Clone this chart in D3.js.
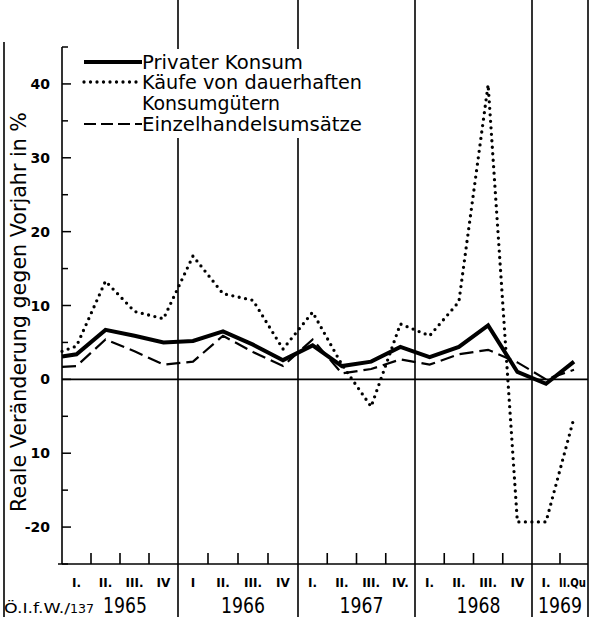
<!DOCTYPE html>
<html><head><meta charset="utf-8">
<script src="https://cdn.jsdelivr.net/npm/d3@7"></script>
<style>body{margin:0;background:#fff}svg{display:block}</style>
</head><body>
<svg id="c" width="591" height="617"></svg>
<script>
// ---- data ----
const times = [1965.0, 1965.125, 1965.375, 1965.625, 1965.875,
  1966.125, 1966.375, 1966.625, 1966.875,
  1967.125, 1967.375, 1967.625, 1967.875,
  1968.125, 1968.375, 1968.625, 1968.875,
  1969.125, 1969.375];
const privaterKonsum = [3.1, 3.4, 6.7, 5.9, 5.0, 5.2, 6.5, 4.7, 2.6, 4.6, 1.8, 2.4, 4.4, 3.0, 4.4, 7.3, 1.0, -0.6, 2.4];
const dauerhafteGueter = [3.8, 4.5, 13.3, 9.2, 8.2, 16.7, 11.6, 10.7, 4.1, 9.1, 2.0, -3.7, 7.5, 5.9, 10.5, 39.9, -19.3, -19.3, -5.2];
const einzelhandel = [1.7, 1.8, 5.4, 3.8, 2.0, 2.4, 5.9, 3.7, 1.8, 5.4, 0.8, 1.4, 2.7, 2.0, 3.4, 4.0, 2.3, 0.0, 1.3];
const years = ["1965", "1966", "1967", "1968", "1969"];
const yearStarts = [1965, 1966, 1967, 1968, 1969, 1969.5];
const quarterLabels = [["I.", "II.", "III.", "IV"], ["I", "II.", "III.", "IV"], ["I.", "II.", "III.", "IV."], ["I.", "II.", "III.", "IV"], ["I.", "II.Qu"]];
const yTickValues = [-20, -10, 0, 10, 20, 30, 40];
const yTickLabels = ["-20", "10", "0", "10", "20", "30", "40"];
const yMinorValues = [-25, -15, -5, 5, 15, 25, 35, 45];
const legendLabels = [["Privater Konsum"], ["Käufe von dauerhaften", "Konsumgütern"], ["Einzelhandelsumsätze"]];
const yTitle = "Reale Veränderung gegen Vorjahr in %";
const source = "Ö.I.f.W./";
const sourceNo = "137";

// ---- layout ----
const svg = d3.select("#c");
const F = "'DejaVu Sans', sans-serif";
const x = d3.scaleLinear().domain(yearStarts).range([62, 178, 298, 415, 532, 588]);
const y = d3.scaleLinear().domain([-25, 45]).range([564, 47]);
const g = svg.append("g");

// frame and year separators
g.append("line").attr("x1", 4).attr("x2", 4).attr("y1", 42).attr("y2", 617).attr("stroke", "#000").attr("stroke-width", 1.6);
yearStarts.slice(1).forEach(t => {
  g.append("line").attr("x1", x(t)).attr("x2", x(t)).attr("y1", 0).attr("y2", 617)
    .attr("stroke", "#000").attr("stroke-width", 1.6);
});
g.append("line").attr("x1", 62).attr("x2", 62).attr("y1", y(45)).attr("y2", y(-25)).attr("stroke", "#000").attr("stroke-width", 1.6);
g.append("line").attr("x1", 58).attr("x2", x(1969.5)).attr("y1", y(-25)).attr("y2", y(-25)).attr("stroke", "#000").attr("stroke-width", 1.6);
g.append("line").attr("x1", 62).attr("x2", x(1969.5)).attr("y1", y(0)).attr("y2", y(0)).attr("stroke", "#000").attr("stroke-width", 1.6);

// y ticks (inside)
yTickValues.forEach((v, i) => {
  g.append("line").attr("x1", 62).attr("x2", 71).attr("y1", y(v)).attr("y2", y(v)).attr("stroke", "#000").attr("stroke-width", 1.5);
  g.append("text").attr("x", 50).attr("y", y(v) + 5).attr("text-anchor", "end")
    .attr("font-family", F).attr("font-weight", "bold").attr("font-size", 14)
    .text(yTickLabels[i]);
});
yMinorValues.forEach(v => {
  g.append("line").attr("x1", 62).attr("x2", 68).attr("y1", y(v)).attr("y2", y(v)).attr("stroke", "#000").attr("stroke-width", 1.5);
});

// quarter ticks and labels
years.forEach((yr, yi) => {
  const t0 = yearStarts[yi];
  const labs = quarterLabels[yi];
  labs.forEach((q, qi) => {
    if (qi > 0) {
      const tt = t0 + qi * 0.25;
      g.append("line").attr("x1", x(tt)).attr("x2", x(tt)).attr("y1", y(-25)).attr("y2", y(-25) - 11)
        .attr("stroke", "#000").attr("stroke-width", 1.6);
    }
    const lab = g.append("text").attr("y", 587)
      .attr("font-family", F).attr("font-size", 12).attr("font-weight", "bold").text(q);
    if (q === "II.Qu") {
      lab.attr("x", x(t0 + 0.25) - 1).attr("text-anchor", "start").attr("textLength", 27).attr("lengthAdjust", "spacingAndGlyphs");
    } else {
      lab.attr("x", x(t0 + qi * 0.25 + 0.125)).attr("text-anchor", "middle");
    }
  });
  const cx = (x(yearStarts[yi]) + x(yearStarts[yi + 1])) / 2 + (yi < 4 ? 5 : 0);
  g.append("text").attr("x", cx).attr("y", 613).attr("text-anchor", "middle")
    .attr("font-family", F).attr("font-size", 21)
    .attr("textLength", 44).attr("lengthAdjust", "spacingAndGlyphs").text(yr);
});

// source
const st = g.append("text").attr("x", 4).attr("y", 613).attr("font-family", F).attr("font-size", 14);
st.append("tspan").attr("textLength", 66).attr("lengthAdjust", "spacingAndGlyphs").text(source);
st.append("tspan").attr("font-size", 12).attr("textLength", 24).attr("lengthAdjust", "spacingAndGlyphs").text(sourceNo);

// y title
g.append("text").attr("transform", "translate(26,312) rotate(-90)").attr("text-anchor", "middle")
  .attr("font-family", F).attr("font-size", 21)
  .attr("textLength", 400).attr("lengthAdjust", "spacingAndGlyphs").text(yTitle);

// series lines
const mk = vals => d3.line().x((d, i) => x(times[i])).y(d => y(d))(vals);
g.append("path").attr("d", mk(einzelhandel)).attr("fill", "none").attr("stroke", "#000")
  .attr("stroke-width", 2.2).attr("stroke-dasharray", "14,6");
g.append("path").attr("d", mk(dauerhafteGueter)).attr("fill", "none").attr("stroke", "#000")
  .attr("stroke-width", 3.3).attr("stroke-linecap", "round").attr("stroke-dasharray", "0,6.5");
g.append("path").attr("d", mk(privaterKonsum)).attr("fill", "none").attr("stroke", "#000")
  .attr("stroke-width", 4).attr("stroke-linejoin", "miter");

// legend
g.append("rect").attr("x", 74).attr("y", 49).attr("width", 292).attr("height", 89).attr("fill", "#fff");
const legY = [62, 82, 124];
const legStyles = [
  {w: 4, dash: null, cap: "butt"},
  {w: 3.3, dash: "0,6.5", cap: "round"},
  {w: 2.2, dash: "12,5", cap: "butt"}
];
const legW = [[161], [220, 138], [220]];
legendLabels.forEach((labs, i) => {
  const s = legStyles[i];
  const ln = g.append("line").attr("x1", 84).attr("x2", 142).attr("y1", legY[i]).attr("y2", legY[i])
    .attr("stroke", "#000").attr("stroke-width", s.w).attr("stroke-linecap", s.cap);
  if (s.dash) ln.attr("stroke-dasharray", s.dash);
  labs.forEach((l, j) => {
    g.append("text").attr("x", 142).attr("y", legY[i] + 7 + j * 21)
      .attr("font-family", F).attr("font-size", 19)
      .attr("textLength", legW[i][j]).attr("lengthAdjust", "spacingAndGlyphs").text(l);
  });
});
</script>
</body></html>
